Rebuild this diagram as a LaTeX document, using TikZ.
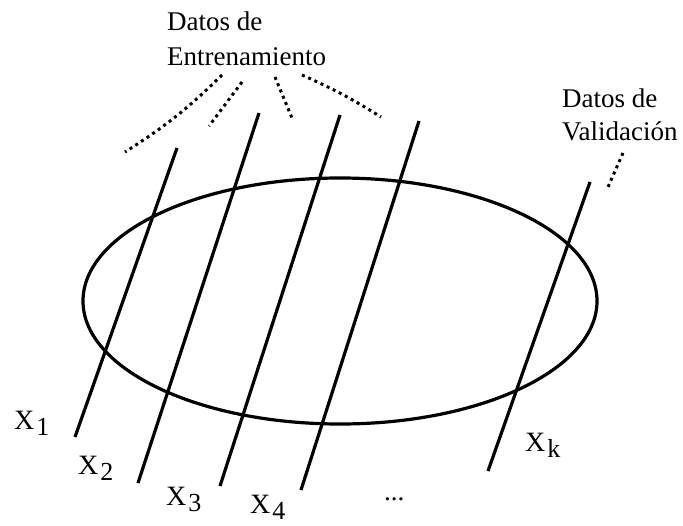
\documentclass[tikz,border=0pt]{standalone}
\usepackage{fontspec}
\setmainfont{Liberation Serif}
\newcommand{\xsub}[1]{{\fontsize{28}{28}\selectfont X}\kern2pt\raisebox{-6pt}{\fontsize{26}{26}\selectfont #1}}

\begin{document}
\begin{tikzpicture}[x=1pt,y=-1pt,
  solidline/.style={line width=3.2pt},
  dotline/.style={line width=3pt,dash pattern=on 3pt off 3.8pt},
  txt/.style={anchor=base west,inner sep=0pt,font=\fontsize{27}{27}\selectfont}]
\useasboundingbox (0,0) rectangle (683,525);
% the set
\draw[solidline] (340,301) ellipse [x radius=257,y radius=123];
% the folds
\coordinate (t1) at (177,148); \coordinate (b1) at (75,437);
\coordinate (t2) at (259,113); \coordinate (b2) at (138,483);
\coordinate (t3) at (340,115); \coordinate (b3) at (220,486);
\coordinate (t4) at (419,121); \coordinate (b4) at (301,490);
\coordinate (tk) at (590,182); \coordinate (bk) at (488,471);
\draw[solidline] (t1)--(b1);
\draw[solidline] (t2)--(b2);
\draw[solidline] (t3)--(b3);
\draw[solidline] (t4)--(b4);
\draw[solidline] (tk)--(bk);
\node[txt] (x1) at (14,429) {\xsub{1}};
\node[txt] (x2) at (78,474) {\xsub{2}};
\node[txt] (x3) at (166,505) {\xsub{3}};
\node[txt] (x4) at (250,513) {\xsub{4}};
\node[txt] (xk) at (525,451) {\xsub{k}};
\node[txt] (dots) at (384,500) {...};
% labels
\node[txt] (train1) at (167,30) {Datos de};
\node[txt] (train2) at (167,65) {Entrenamiento};
\node[txt] (val1) at (562,107) {Datos de};
\node[txt] (val2) at (562,140) {Validación};
% dotted pointers
\coordinate (p1a) at (222,75); \coordinate (p1b) at (125,152);
\coordinate (p2a) at (242,82); \coordinate (p2b) at (209,126);
\coordinate (p3a) at (275,77); \coordinate (p3b) at (292,118);
\coordinate (p4a) at (302,75); \coordinate (p4b) at (381,117);
\coordinate (pka) at (623,153); \coordinate (pkb) at (608,187);
\draw[dotline] (p1a) to[bend left=6] (p1b);
\draw[dotline] (p2a)--(p2b);
\draw[dotline] (p3a)--(p3b);
\draw[dotline] (p4a) to[bend left=4] (p4b);
\draw[dotline] (pka)--(pkb);
\end{tikzpicture}
\end{document}
